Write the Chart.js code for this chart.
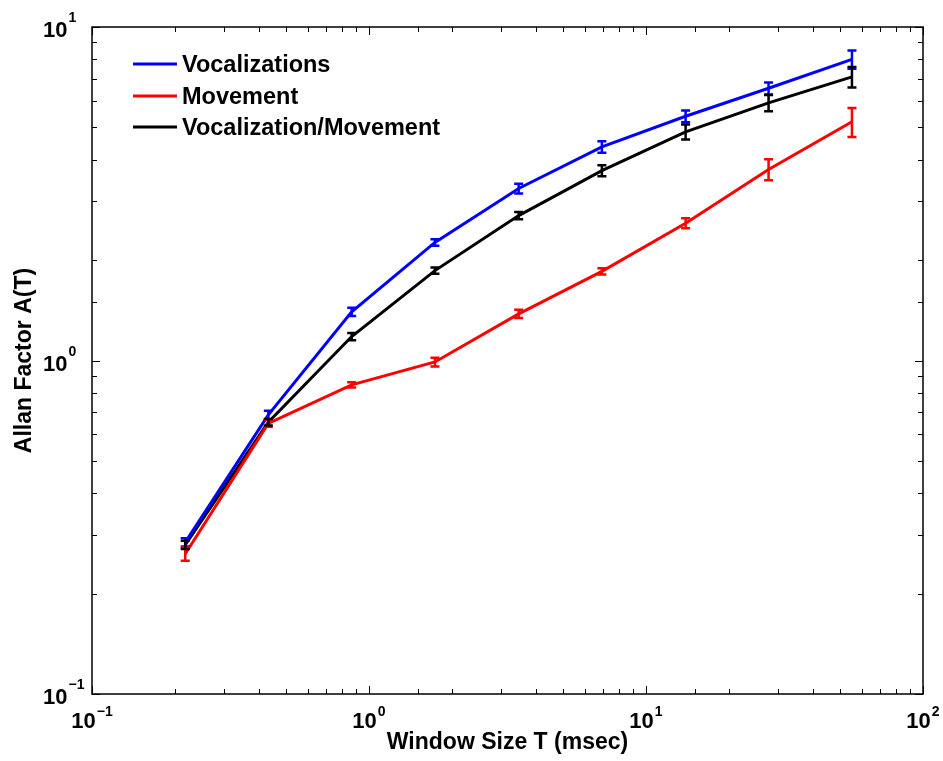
<!DOCTYPE html>
<html>
<head>
<meta charset="utf-8">
<script src="https://cdn.jsdelivr.net/npm/chart.js@4/dist/chart.umd.min.js"></script>
<style>
  html, body { margin: 0; padding: 0; background: #fff; }
  #wrap { width: 943px; height: 761px; }
</style>
</head>
<body>
<div id="wrap"><canvas id="allanChart" width="943" height="761"></canvas></div>
<script>
// Window sizes T (msec) and Allan factor values
const windowSize = [0.217, 0.433, 0.866, 1.73, 3.47, 6.93, 13.9, 27.7, 55.4];

const vocalizations    = [0.285, 0.687, 1.40, 2.26, 3.28, 4.37, 5.40, 6.55, 8.00];
const vocalizationsErr = [0.008, 0.02, 0.04, 0.05, 0.11, 0.17, 0.22, 0.27, 0.50];

const movement    = [0.263, 0.648, 0.845, 0.99, 1.38, 1.85, 2.58, 3.74, 5.20];
const movementErr = [0.012, 0.015, 0.015, 0.03, 0.04, 0.04, 0.09, 0.27, 0.52];

const ratio    = [0.280, 0.653, 1.18, 1.86, 2.72, 3.71, 4.85, 5.92, 7.09];
const ratioErr = [0.008, 0.015, 0.03, 0.04, 0.07, 0.14, 0.25, 0.33, 0.50];

const seriesLabels = ['Vocalizations', 'Movement', 'Vocalization/Movement'];
const seriesColors = ['#0000ff', '#ff0000', '#000000'];

// decade tick labels: base 10 with exponent
const xDecades = [0.1, 1, 10, 100];
const yDecades = [0.1, 1, 10];
const decadeExp = ['\u22121', '0', '1', '2'];

const FONT = '"Liberation Sans", Arial, Helvetica, sans-serif';

function toPoints(ys, errs) {
    return ys.map((y, i) => ({ x: windowSize[i], y: y, err: errs[i] }));
}

// error bars, box, inward ticks, tick labels and legend (MATLAB look)
const matlabAxes = {
    id: 'matlabAxes',
    afterDatasetsDraw(chart) {
        const ctx = chart.ctx;
        const xs = chart.scales.x;
        const ys = chart.scales.y;
        ctx.save();
        // error bars
        chart.data.datasets.forEach(ds => {
            ctx.strokeStyle = ds.borderColor;
            ctx.lineWidth = 2.5;
            ds.data.forEach(p => {
                const px = xs.getPixelForValue(p.x);
                const top = ys.getPixelForValue(p.y + p.err);
                const bot = ys.getPixelForValue(p.y - p.err);
                ctx.beginPath();
                ctx.moveTo(px, top); ctx.lineTo(px, bot);
                ctx.moveTo(px - 4.5, top); ctx.lineTo(px + 4.5, top);
                ctx.moveTo(px - 4.5, bot); ctx.lineTo(px + 4.5, bot);
                ctx.stroke();
            });
        });
        ctx.restore();
    },
    afterDraw(chart) {
        const ctx = chart.ctx;
        const area = chart.chartArea;
        const xs = chart.scales.x;
        const ys = chart.scales.y;
        ctx.save();
        ctx.strokeStyle = '#000';
        ctx.lineWidth = 1.5;
        ctx.strokeRect(area.left, area.top, area.right - area.left, area.bottom - area.top);

        ctx.lineWidth = 1;
        xs.ticks.forEach(t => {
            const px = Math.round(xs.getPixelForValue(t.value)) + 0.5;
            const major = xDecades.includes(t.value);
            const len = major ? 8 : 5;
            ctx.beginPath();
            ctx.moveTo(px, area.bottom); ctx.lineTo(px, area.bottom - len);
            ctx.moveTo(px, area.top); ctx.lineTo(px, area.top + len);
            ctx.stroke();
        });
        ys.ticks.forEach(t => {
            const py = Math.round(ys.getPixelForValue(t.value)) + 0.5;
            const major = yDecades.includes(t.value);
            const len = major ? 8 : 5;
            ctx.beginPath();
            ctx.moveTo(area.left, py); ctx.lineTo(area.left + len, py);
            ctx.moveTo(area.right, py); ctx.lineTo(area.right - len, py);
            ctx.stroke();
        });

        // tick labels
        ctx.fillStyle = '#000';
        ctx.textBaseline = 'alphabetic';
        ctx.textAlign = 'left';
        const baseFont = 'bold 22px ' + FONT;
        const expFont = 'bold 14px ' + FONT;
        const drawPow = (exp, x, baseY, expY) => {
            ctx.font = baseFont;
            const w = ctx.measureText('10').width;
            ctx.fillText('10', x, baseY);
            ctx.font = expFont;
            ctx.fillText(exp, x + w + 1, expY);
        };
        const powWidth = exp => {
            ctx.font = baseFont;
            const w = ctx.measureText('10').width;
            ctx.font = expFont;
            return w + 1 + ctx.measureText(exp).width;
        };
        xDecades.forEach((v, i) => {
            const px = xs.getPixelForValue(v);
            const exp = decadeExp[i];
            drawPow(exp, px - powWidth(exp) / 2, 728, 716);
        });
        // y labels: the base "10" lines up, the exponent sticks out to the right
        yDecades.forEach((v, i) => {
            const py = ys.getPixelForValue(v);
            drawPow(decadeExp[i], 43, py + 10, py - 5);
        });

        // legend
        const legX = area.left + 41;
        const legY = [64, 96, 127];
        chart.data.datasets.forEach((ds, i) => {
            ctx.strokeStyle = ds.borderColor;
            ctx.lineWidth = 3;
            ctx.beginPath();
            ctx.moveTo(legX, legY[i]); ctx.lineTo(legX + 44, legY[i]);
            ctx.stroke();
            ctx.font = 'bold 23.5px ' + FONT;
            ctx.textBaseline = 'middle';
            ctx.fillStyle = '#000';
            ctx.fillText(ds.label, legX + 49, legY[i] + 2);
        });
        ctx.restore();
    }
};

const ctx = document.getElementById('allanChart').getContext('2d');
const allanChart = new Chart(ctx, {
    type: 'line',
    data: {
        datasets: [
            { label: seriesLabels[0], data: toPoints(vocalizations, vocalizationsErr), borderColor: seriesColors[0] },
            { label: seriesLabels[1], data: toPoints(movement, movementErr), borderColor: seriesColors[1] },
            { label: seriesLabels[2], data: toPoints(ratio, ratioErr), borderColor: seriesColors[2] }
        ].map(ds => Object.assign(ds, {
            backgroundColor: ds.borderColor,
            borderWidth: 3,
            pointRadius: 0,
            tension: 0,
            fill: false
        }))
    },
    options: {
        responsive: false,
        animation: false,
        layout: { padding: { top: 27, right: 20, left: 0, bottom: 0 } },
        plugins: {
            legend: { display: false },
            tooltip: { enabled: false }
        },
        scales: {
            x: {
                type: 'logarithmic',
                min: 0.1,
                max: 100,
                grid: { display: false },
                border: { display: false },
                ticks: { display: false },
                title: {
                    display: true,
                    text: 'Window Size T (msec)',
                    color: '#000',
                    font: { family: FONT, size: 23, weight: 'bold' },
                    padding: { top: 0, bottom: 5 }
                },
                afterFit: scale => { scale.height = 67; }
            },
            y: {
                type: 'logarithmic',
                min: 0.1,
                max: 10,
                grid: { display: false },
                border: { display: false },
                ticks: { display: false },
                title: {
                    display: true,
                    text: 'Allan Factor A(T)',
                    color: '#000',
                    font: { family: FONT, size: 23, weight: 'bold' },
                    padding: { top: 11, bottom: 0 }
                },
                afterFit: scale => { scale.width = 92; }
            }
        }
    },
    plugins: [matlabAxes]
});
</script>
</body>
</html>
